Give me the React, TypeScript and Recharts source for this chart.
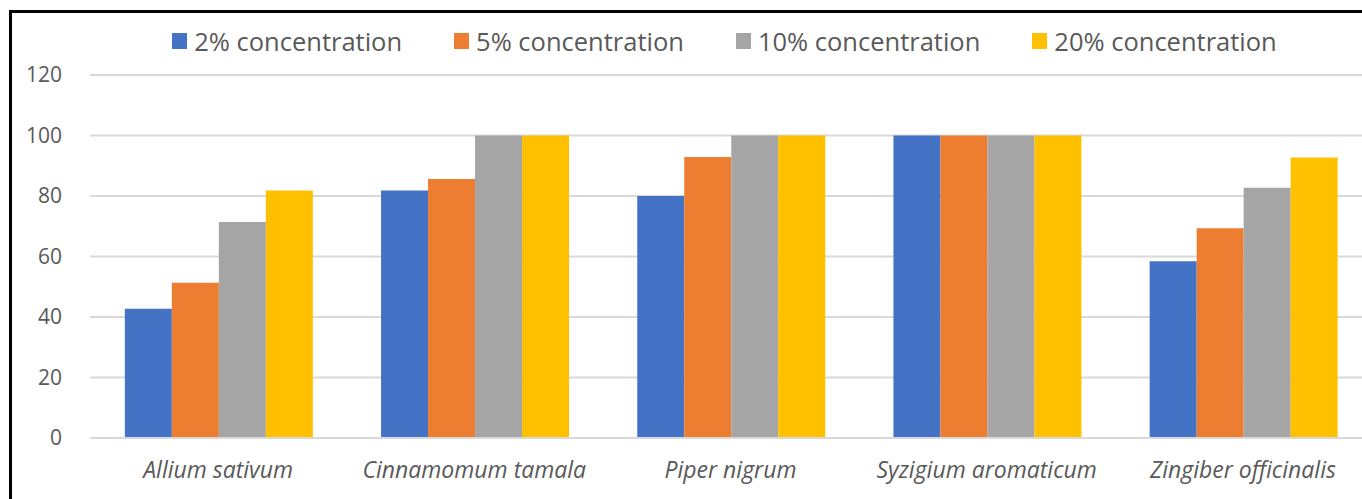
import { BarChart, Bar, XAxis, YAxis, CartesianGrid } from 'recharts';

const plants = ['Allium sativum', 'Cinnamomum tamala', 'Piper nigrum', 'Syzigium aromaticum', 'Zingiber officinalis'];
const conc2 = [42.7, 81.8, 80, 100, 58.4];
const conc5 = [51.3, 85.6, 92.9, 100, 69.3];
const conc10 = [71.4, 100, 100, 100, 82.7];
const conc20 = [81.8, 100, 100, 100, 92.7];
const yTicks = [0, 20, 40, 60, 80, 100, 120];

const series = [
    { key: 'c2', name: '2% concentration', color: '#4472C4' },
    { key: 'c5', name: '5% concentration', color: '#ED7D31' },
    { key: 'c10', name: '10% concentration', color: '#A5A5A5' },
    { key: 'c20', name: '20% concentration', color: '#FFC000' },
];

const data = plants.map((name, i) => ({
    name,
    c2: conc2[i],
    c5: conc5[i],
    c10: conc10[i],
    c20: conc20[i],
}));

const textColor = '#595959';
const gridColor = '#D9D9D9';

export default function App() {
    return (
        <div style={{ position: 'absolute', left: 0, top: 0, width: 1362, height: 499, overflow: 'hidden', background: '#fff', fontFamily: '"Open Sans", sans-serif' }}>
            <div style={{ position: 'absolute', left: 9, top: 10, width: 1400, height: 600, borderLeft: '3px solid #000', borderTop: '3px solid #000' }} />

            {/* legend row */}
            <div style={{ position: 'absolute', left: 84, top: 24, width: 1281, display: 'flex', justifyContent: 'center', gap: 52 }}>
                {series.map(s => (
                    <div key={s.key} style={{ display: 'flex', alignItems: 'center', gap: 7 }}>
                        <div style={{ width: 15, height: 16, background: s.color }} />
                        <span style={{ fontSize: 25.5, color: textColor, lineHeight: '34px' }}>{s.name}</span>
                    </div>
                ))}
            </div>

            <div style={{ position: 'absolute', left: 0, top: 0 }}>
                <BarChart width={1372} height={499} data={data}
                    margin={{ top: 75, right: 1, left: 0, bottom: 0 }}
                    barCategoryGap="13.6%" barGap={0}>
                    <CartesianGrid vertical={false} stroke={gridColor} strokeWidth={2} />
                    <XAxis dataKey="name" height={61} tickLine={false}
                        axisLine={{ stroke: gridColor, strokeWidth: 2 }}
                        tickMargin={18}
                        tick={{ fill: textColor, fontSize: 23, fontStyle: 'italic' }} />
                    <YAxis width={90} domain={[0, 120]} ticks={yTicks} axisLine={false}
                        tickLine={false} tickSize={0} tickMargin={28}
                        tick={{ fill: textColor, fontSize: 21 }} />
                    {series.map(s => (
                        <Bar key={s.key} dataKey={s.key} name={s.name} fill={s.color} isAnimationActive={false} />
                    ))}
                </BarChart>
            </div>
        </div>
    );
}
